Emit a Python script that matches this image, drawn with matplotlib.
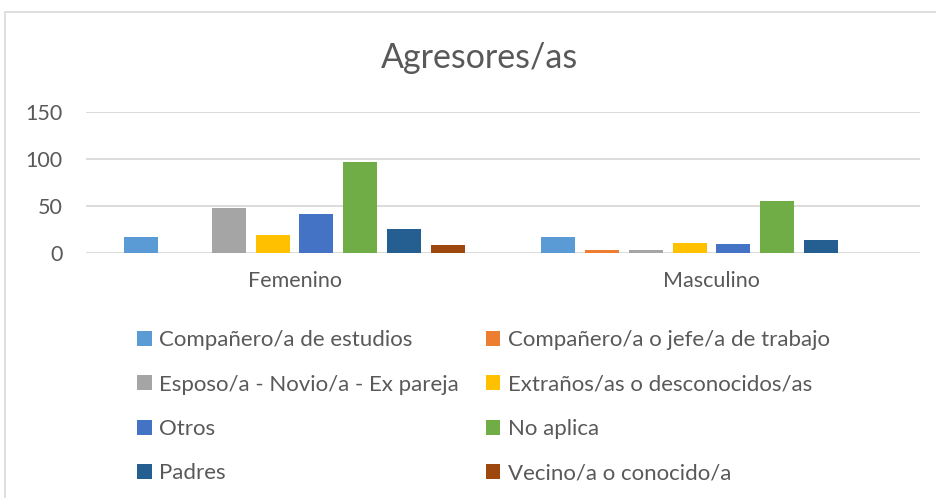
import numpy as np
import matplotlib.pyplot as plt
from matplotlib.patches import Rectangle

# Datos
categorias = ['Femenino', 'Masculino']
series = ['Compañero/a de estudios', 'Compañero/a o jefe/a de trabajo',
          'Esposo/a - Novio/a - Ex pareja', 'Extraños/as o desconocidos/as',
          'Otros', 'No aplica', 'Padres', 'Vecino/a o conocido/a']
femenino = [17, 0, 48, 19, 41, 97, 26, 8]
masculino = [17, 3, 3, 11, 10, 55, 14, 0]
colores = ['#5B9BD5', '#ED7D31', '#A5A5A5', '#FFC000',
           '#4472C4', '#70AD47', '#255E91', '#9E480E']
yticks = [0, 50, 100, 150]

texto = '#595959'
plt.rcParams['font.family'] = ['Lato', 'DejaVu Sans']

fig = plt.figure(figsize=(9.36, 4.98), dpi=100)
# marco exterior del grafico
fig.patches.append(Rectangle((5 / 936, -0.1), 1.2, (498 - 12) / 498 + 0.1,
                             transform=fig.transFigure, fill=False,
                             edgecolor='#D9D9D9', linewidth=1.2))

ax = fig.add_axes([86 / 936, 245 / 498, 834 / 936, 141 / 498])
x = np.arange(len(categorias))
paso = 0.1053
ancho = 0.0815
barras = []
for i, nombre in enumerate(series):
    vals = [femenino[i], masculino[i]]
    b = ax.bar(x + (i - 3.5) * paso, vals, ancho, color=colores[i],
               label=nombre, zorder=3)
    barras.append(b)

ax.set_xlim(-0.5, 1.5)
ax.set_ylim(0, 150)
ax.set_yticks(yticks)
ax.set_xticks(x)
ax.set_xticklabels(categorias)
ax.grid(axis='y', color='#D9D9D9', linewidth=1.3, zorder=0)
for s in ax.spines.values():
    s.set_visible(False)
ax.tick_params(axis='both', length=0, labelsize=15.5, colors=texto)
ax.tick_params(axis='y', pad=17)
ax.tick_params(axis='x', pad=13)

fig.text(480 / 936, 1 - 58 / 498, 'Agresores/as', ha='center', va='center',
         fontsize=24.5, color=texto)

orden = [0, 2, 4, 6, 1, 3, 5, 7]
leg = fig.legend([barras[k] for k in orden], [series[k] for k in orden],
                 ncol=2, loc='upper left',
                 bbox_to_anchor=(126 / 936, 1 - 319 / 498),
                 frameon=False, fontsize=16, labelspacing=1.1,
                 handlelength=0.65, handleheight=0.65, handletextpad=0.35,
                 columnspacing=1.2, borderpad=0)
for t in leg.get_texts():
    t.set_color(texto)

fig.savefig('out.png', dpi=100)
